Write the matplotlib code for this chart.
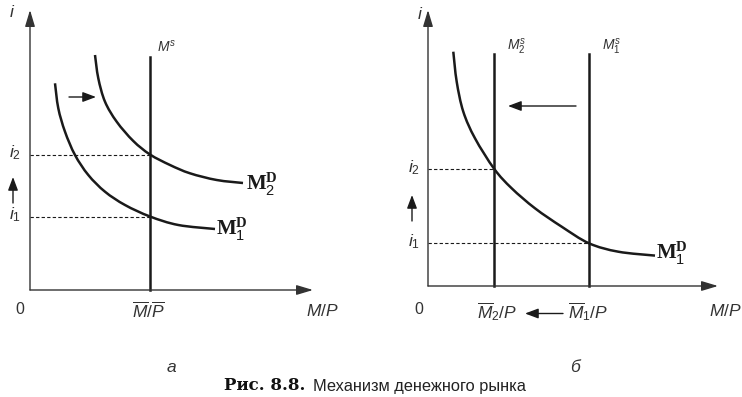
import matplotlib
matplotlib.use("Agg")
import matplotlib.pyplot as plt
from matplotlib.path import Path
from matplotlib.patches import PathPatch

plt.rcParams['font.family'] = ['Liberation Sans', 'DejaVu Sans']
plt.rcParams['mathtext.fontset'] = 'custom'
plt.rcParams['mathtext.rm'] = 'Liberation Sans'
plt.rcParams['mathtext.it'] = 'Liberation Sans:italic'
plt.rcParams['mathtext.bf'] = 'Liberation Serif:bold'

# ---------------- data (abstract units, origin at axis corner) ----------------
# Panel a: demand shifts right
a_xmax, a_ymax = 28.3, 28.0
a_ms_x = 12.0
a_ms_top = 23.3
a_i2 = 13.55
a_i1 = 7.35
a_md2_x = [6.5, 6.83, 7.5, 8.67, 10.33, 12.0, 14.0, 16.0, 18.67, 21.3]
a_md2_y = [23.5, 21.17, 18.83, 16.83, 14.9, 13.55, 12.5, 11.67, 11.0, 10.7]
a_md1_x = [2.5, 2.83, 3.5, 4.5, 5.83, 7.5, 9.5, 12.0, 14.83, 18.5]
a_md1_y = [20.67, 18.17, 15.83, 13.5, 11.5, 9.83, 8.5, 7.35, 6.5, 6.1]

# Panel b: supply shifts left
b_xmax, b_ymax = 29.0, 27.6
b_ms2_x = 6.63
b_ms1_x = 16.1
b_ms_top = 23.2
b_i2 = 11.7
b_i1 = 4.27
b_md_x = [2.53, 2.87, 3.53, 4.7, 6.63, 8.37, 10.7, 13.37, 16.1, 19.03, 22.7]
b_md_y = [23.43, 20.43, 17.43, 14.77, 11.7, 9.77, 7.77, 5.93, 4.27, 3.43, 3.04]

W, H = 742, 397
fig = plt.figure(figsize=(W / 100, H / 100), dpi=100)

def make_ax(ox, oy, xmax_px, ytop_px, xmax, ymax):
    ax = fig.add_axes([ox / W, (H - oy) / H, (xmax_px - ox) / W, (oy - ytop_px) / H])
    ax.set_xlim(0, xmax)
    ax.set_ylim(0, ymax)
    ax.axis('off')
    return ax

axa = make_ax(30, 290, 313, 10, a_xmax, a_ymax)
axb = make_ax(428, 286, 718, 10, b_xmax, b_ymax)

AX_COL = '#333333'
LINE_COL = '#1a1a1a'

def smooth_curve(ax, xs, ys, lw=1.8):
    """Draw a smooth curve through the read points as cubic Bezier segments."""
    pts = list(zip(xs, ys))
    n = len(pts)
    verts = [pts[0]]
    codes = [Path.MOVETO]
    for i in range(n - 1):
        p0 = pts[i - 1] if i > 0 else pts[i]
        p1 = pts[i]
        p2 = pts[i + 1]
        p3 = pts[i + 2] if i + 2 < n else pts[i + 1]
        c1 = (p1[0] + (p2[0] - p0[0]) / 6, p1[1] + (p2[1] - p0[1]) / 6)
        c2 = (p2[0] - (p3[0] - p1[0]) / 6, p2[1] - (p3[1] - p1[1]) / 6)
        verts += [c1, c2, p2]
        codes += [Path.CURVE4] * 3
    patch = PathPatch(Path(verts, codes), facecolor='none', edgecolor=LINE_COL,
                      lw=lw, capstyle='butt', joinstyle='round', clip_on=False)
    ax.add_patch(patch)

def axes_arrows(ax, xmax, ymax):
    for end in [(xmax, 0), (0, ymax)]:
        ax.annotate('', xy=end, xytext=(0, 0), annotation_clip=False,
                    arrowprops=dict(arrowstyle='-|>,head_length=1.0,head_width=0.3',
                                    lw=1.0, color=AX_COL, shrinkA=0, shrinkB=0))

def small_arrow(ax, x0, y0, x1, y1):
    ax.annotate('', xy=(x1, y1), xytext=(x0, y0), annotation_clip=False,
                arrowprops=dict(arrowstyle='-|>,head_length=0.8,head_width=0.3',
                                lw=1.0, color=LINE_COL, shrinkA=0, shrinkB=0))

def dashed(ax, x, y):
    ax.plot([0, x], [y, y], color=LINE_COL, lw=0.8, dashes=(3, 2), clip_on=False)

fs = 12.5

# ---------------- panel a ----------------
axes_arrows(axa, a_xmax, a_ymax)
axa.plot([a_ms_x, a_ms_x], [0, a_ms_top], color=LINE_COL, lw=1.8, clip_on=False)
smooth_curve(axa, a_md2_x, a_md2_y)
smooth_curve(axa, a_md1_x, a_md1_y)
dashed(axa, a_ms_x, a_i2)
dashed(axa, a_ms_x, a_i1)
small_arrow(axa, 3.9, 19.3, 6.6, 19.3)
small_arrow(axa, -1.7, 8.7, -1.7, 11.3)

axa.text(-1.8, 27.8, '$i$', fontsize=fs, ha='center', va='center', color=AX_COL)
axa.text(-1.5, 13.7, '$i_2$', fontsize=fs, ha='center', va='center', color=AX_COL)
axa.text(-1.5, 7.5, '$i_1$', fontsize=fs, ha='center', va='center', color=AX_COL)
axa.text(-1.0, -2.0, '0', fontsize=fs - 1, ha='center', va='center', color=AX_COL)
axa.text(29.2, -2.1, '$M/P$', fontsize=fs, ha='center', va='center', color=AX_COL)
axa.text(11.8, -2.1, r'$\overline{M}/\overline{P}$', fontsize=fs, ha='center', va='center', color=AX_COL)
axa.text(13.7, 24.3, '$M^s$', fontsize=10, ha='center', va='center', color=AX_COL)
axa.text(23.2, 10.6, r'$\mathbf{M}^{\mathbf{D}}_{2}$', fontsize=15, ha='center', va='center', color=LINE_COL)
axa.text(20.2, 6.1, r'$\mathbf{M}^{\mathbf{D}}_{1}$', fontsize=15, ha='center', va='center', color=LINE_COL)
axa.text(14.2, -7.7, '$a$', fontsize=fs, ha='center', va='center', color=AX_COL)

# ---------------- panel b ----------------
axes_arrows(axb, b_xmax, b_ymax)
axb.plot([b_ms2_x, b_ms2_x], [0, b_ms_top], color=LINE_COL, lw=1.8, clip_on=False)
axb.plot([b_ms1_x, b_ms1_x], [0, b_ms_top], color=LINE_COL, lw=1.8, clip_on=False)
smooth_curve(axb, b_md_x, b_md_y)
dashed(axb, b_ms2_x, b_i2)
dashed(axb, b_ms1_x, b_i1)
small_arrow(axb, 14.8, 18.0, 8.0, 18.0)
small_arrow(axb, -1.6, 6.5, -1.6, 9.1)
small_arrow(axb, 13.5, -2.75, 9.7, -2.75)

axb.text(-0.8, 27.2, '$i$', fontsize=fs, ha='center', va='center', color=AX_COL)
axb.text(-1.4, 11.8, '$i_2$', fontsize=fs, ha='center', va='center', color=AX_COL)
axb.text(-1.4, 4.4, '$i_1$', fontsize=fs, ha='center', va='center', color=AX_COL)
axb.text(-0.9, -2.4, '0', fontsize=fs - 1, ha='center', va='center', color=AX_COL)
axb.text(29.7, -2.5, '$M/P$', fontsize=fs, ha='center', va='center', color=AX_COL)
axb.text(6.9, -2.6, r'$\overline{M}_2/P$', fontsize=fs, ha='center', va='center', color=AX_COL)
axb.text(16.0, -2.6, r'$\overline{M}_1/P$', fontsize=fs, ha='center', va='center', color=AX_COL)
axb.text(8.9, 23.9, '$M^s_2$', fontsize=10, ha='center', va='center', color=AX_COL)
axb.text(18.4, 23.9, '$M^s_1$', fontsize=10, ha='center', va='center', color=AX_COL)
axb.text(24.4, 3.3, r'$\mathbf{M}^{\mathbf{D}}_{1}$', fontsize=15, ha='center', va='center', color=LINE_COL)
axb.text(14.7, -8.1, 'б', fontsize=fs, style='italic', ha='center', va='center', color=AX_COL)

# ---------------- caption ----------------
fig.text(305 / W, 1 - 386 / H, 'Рис. 8.8.', fontsize=12, fontweight='bold',
         family=['DejaVu Serif'], ha='right', va='center', color='#111111')
fig.text(313 / W, 1 - 386 / H, 'Механизм денежного рынка', fontsize=11.8,
         ha='left', va='center', color='#222222')

fig.savefig('out.png', dpi=100)
